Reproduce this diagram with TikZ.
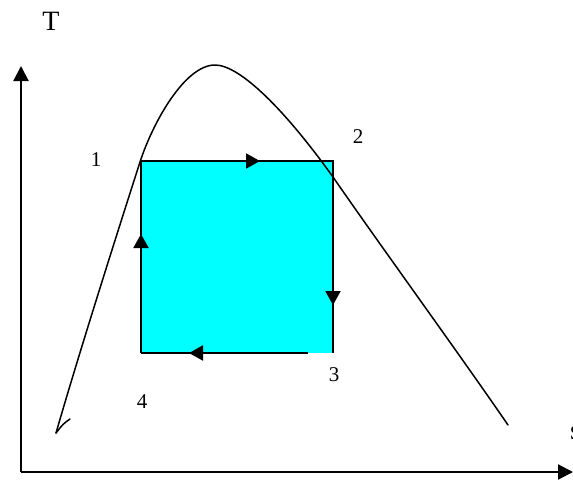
\documentclass[tikz,border=0pt]{standalone}
\usepackage{fontspec}
\setmainfont{Liberation Serif}
\usetikzlibrary{arrows.meta}
\definecolor{cyanfill}{RGB}{0,255,255}
\begin{document}
\begin{tikzpicture}[x=1pt,y=-1pt,
  axis/.style={line width=2.2pt,-{Triangle[length=15pt,width=15pt]}},
  flow/.style={line width=2pt,-{Triangle[length=14pt,width=15pt]}},
  edge/.style={line width=2pt},
  dome/.style={line width=1.5pt,line join=round,line cap=round},
  lbl/.style={font=\fontsize{21}{21}\selectfont,inner sep=0pt},
  big/.style={font=\fontsize{28}{28}\selectfont,inner sep=0pt}]
\useasboundingbox (0,0) rectangle (573,480);
% axes
\coordinate (o) at (21,472);
\coordinate (ytop) at (21,66);
\coordinate (xend) at (573,472);
\draw[axis] (o) -- (ytop);
\draw[axis] (o) -- (xend);
\node[big] (T) at (51,21.5) {T};
\node[big,anchor=west] (s) at (570,433) {s};
% cycle square
\coordinate (A) at (141,161);
\coordinate (B) at (333,161);
\coordinate (C) at (333,353);
\coordinate (D) at (141,353);
\coordinate (Dr) at (308,353);
\fill[cyanfill] (A) rectangle (C);
\draw[edge] (D) -- (A) -- (B) -- (C);
\draw[edge] (D) -- (Dr);
% flow arrows
\coordinate (t1) at (212,161); \coordinate (t2) at (260,161);
\coordinate (r1) at (333,257); \coordinate (r2) at (333,305);
\coordinate (b1) at (262,353); \coordinate (b2) at (189,353);
\coordinate (l1) at (141,283); \coordinate (l2) at (141,234);
\draw[flow] (t1) -- (t2);
\draw[flow] (r1) -- (r2);
\draw[flow] (b1) -- (b2);
\draw[flow] (l1) -- (l2);
% saturation dome
\coordinate (h0) at (70,419);
\coordinate (h1) at (56,433);
\coordinate (sl) at (140,162);
\coordinate (pk) at (215,65);
\coordinate (sr) at (333,177);
\coordinate (ed) at (508,425);
\draw[dome] (h0) .. controls (63,424) .. (h1);
\draw[dome] (h1) .. controls (80,350) and (115,240) .. (sl)
  .. controls (153,122) and (185,65) .. (pk)
  .. controls (240,65) and (285,110) .. (sr)
  .. controls (380,245) and (460,355) .. (ed);
% labels
\node[lbl] (n1) at (96,160) {1};
\node[lbl] (n2) at (358,137) {2};
\node[lbl] (n3) at (334,375) {3};
\node[lbl] (n4) at (142,402) {4};
\end{tikzpicture}
\end{document}
